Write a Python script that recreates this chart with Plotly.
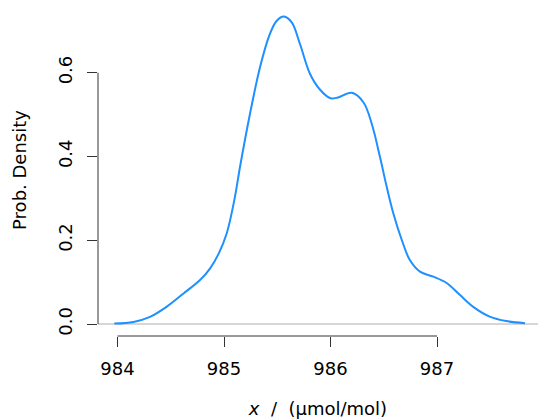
import plotly.graph_objects as go

# Kernel density estimate of the measured amount fraction
x_vals = [983.97, 984.15, 984.305, 984.46, 984.62, 984.775, 984.87, 984.95,
          985.025, 985.10, 985.15, 985.244, 985.338, 985.43, 985.495, 985.563,
          985.636, 985.714, 985.808, 985.90, 986.00, 986.07, 986.20, 986.31,
          986.387, 986.465, 986.528, 986.59, 986.67, 986.746, 986.84, 986.965,
          987.09, 987.216, 987.34, 987.50, 987.65, 987.826]
density = [0.001, 0.005, 0.017, 0.041, 0.073, 0.105, 0.133, 0.168,
           0.216, 0.300, 0.375, 0.502, 0.613, 0.692, 0.724, 0.734,
           0.720, 0.668, 0.597, 0.560, 0.539, 0.541, 0.552, 0.529,
           0.478, 0.398, 0.327, 0.264, 0.200, 0.152, 0.125, 0.113,
           0.098, 0.069, 0.041, 0.017, 0.007, 0.002]

x_ticks = [984, 985, 986, 987]
y_ticks = [0.0, 0.2, 0.4, 0.6]
y_tick_text = ["0.0", "0.2", "0.4", "0.6"]

axis_col = "#333333"
font = dict(family="DejaVu Sans", size=18, color="black")

fig = go.Figure()
fig.add_trace(go.Scatter(
    x=x_vals, y=density, mode="lines",
    line=dict(color="#1E90FF", width=2, shape="spline", smoothing=1.0),
    hoverinfo="skip", showlegend=False,
))

fig.update_layout(
    width=538, height=419,
    margin=dict(l=98, r=0, t=4, b=83),
    paper_bgcolor="white", plot_bgcolor="white",
    font=font,
    xaxis=dict(
        range=[983.8169, 987.948], tickvals=x_ticks,
        ticks="outside", ticklen=10, tickcolor=axis_col, tickwidth=1,
        ticklabelstandoff=6,
        showgrid=False, zeroline=False, showline=False,
        title=dict(text="<i>x</i>\u00a0\u00a0/\u00a0\u00a0(µmol/mol)", font=font, standoff=24),
    ),
    yaxis=dict(
        range=[-0.02865, 0.7641], tickvals=y_ticks, ticktext=y_tick_text,
        ticks="outside", ticklen=10, tickcolor=axis_col, tickwidth=1,
        tickangle=-90, ticklabelstandoff=8,
        showgrid=False, zeroline=False, showline=False,
        title=dict(text="Prob. Density", font=font, standoff=23),
    ),
    shapes=[
        # baseline at zero density
        dict(type="line", xref="paper", yref="y", x0=0, x1=1, y0=0, y1=0,
             line=dict(color="#c8c8c8", width=1.5), layer="below"),
        # axis lines spanning the tick range
        dict(type="line", xref="x", yref="paper", x0=x_ticks[0], x1=x_ticks[-1],
             y0=0, y1=0, line=dict(color=axis_col, width=1)),
        dict(type="line", xref="paper", yref="y", x0=0, x1=0,
             y0=y_ticks[0], y1=y_ticks[-1], line=dict(color=axis_col, width=1)),
    ],
)

fig.write_html("out.html")
